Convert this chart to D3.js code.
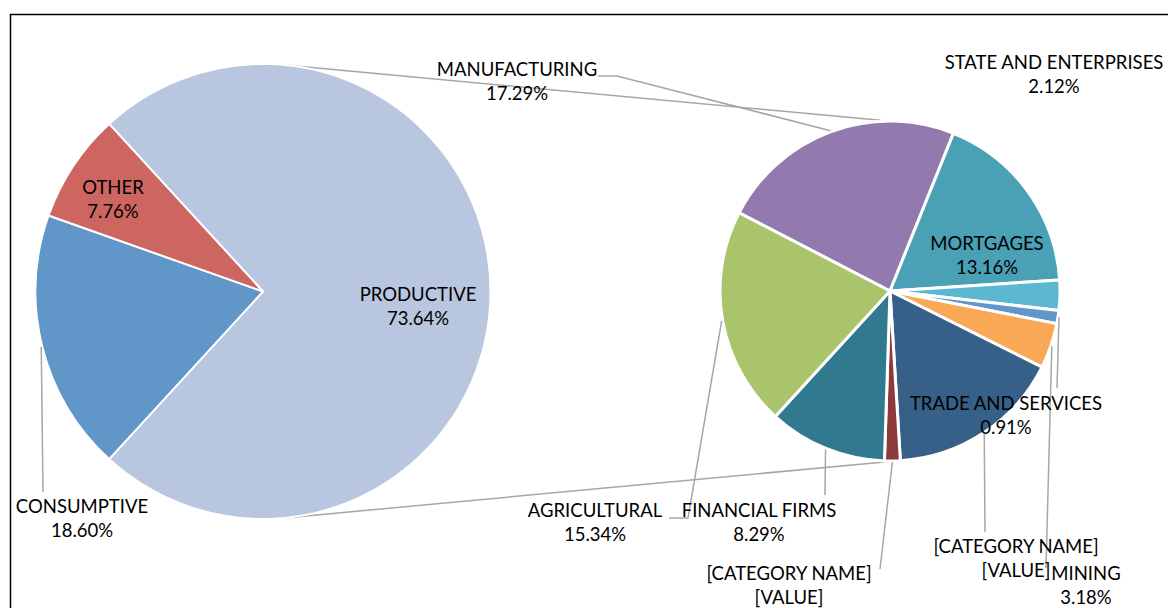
<!DOCTYPE html>
<html>
<head>
<meta charset="utf-8">
<script src="https://cdn.jsdelivr.net/npm/d3@7"></script>
<style>
html,body{margin:0;padding:0;background:#fff;}
svg{display:block;}
text{font-family:Lato,"Open Sans",sans-serif;font-size:18.5px;fill:#000;}
</style>
</head>
<body>
<svg id="chart" width="1168" height="608"></svg>
<script>
// ---- data ----
const mainCategories = ["PRODUCTIVE", "CONSUMPTIVE", "OTHER"];
const mainValues = [73.64, 18.60, 7.76];
const mainColors = ["#B8C6E0", "#6196C8", "#CD6660"];

const subCategories = ["MANUFACTURING", "MORTGAGES", "STATE AND ENTERPRISES", "TRADE AND SERVICES",
  "MINING", "[CATEGORY NAME]", "[CATEGORY NAME] ", "FINANCIAL FIRMS", "AGRICULTURAL"];
const subValues = [17.29, 13.16, 2.12, 0.91, 3.18, 12.25, 1.10, 8.29, 15.34];
const subColors = ["#927AAF", "#4AA0B5", "#5BB8D0", "#6196C9", "#F9A855", "#376088", "#8C3A3A", "#31798F", "#AAC46B"];

// label texts (line1, line2) as they appear
const mainLabelText = [["PRODUCTIVE", "73.64%"], ["CONSUMPTIVE", "18.60%"], ["OTHER", "7.76%"]];
const subLabelText = [["MANUFACTURING", "17.29%"], ["MORTGAGES", "13.16%"], ["STATE AND ENTERPRISES", "2.12%"],
  ["TRADE AND SERVICES", "0.91%"], ["MINING", "3.18%"], ["[CATEGORY NAME]", "[VALUE]"],
  ["[CATEGORY NAME]", "[VALUE]"], ["FINANCIAL FIRMS", "8.29%"], ["AGRICULTURAL", "15.34%"]];

// ---- layout ----
const svg = d3.select("#chart");
const W = 1168, H = 608;
const main = {cx: 263, cy: 291.5, r: 227.5};
const sub = {cx: 890, cy: 291, r: 170};
const rad = d => d * Math.PI / 180;

// label anchor positions (center x, first line center y)
const mainLabelPos = [[418, 295], [82, 507], [113, 188]];
const subLabelPos = [[517, 70], [987, 244], [1054, 63], [1006, 404], [1086, 574], [1016, 547], [789, 574], [759, 511], [595, 511]];
// leader end points (null = no leader)
const mainLeaderEnd = [null, [[43, 492]], null];
const subLeaderEnd = [
  [[617, 76], [598, 76]],
  null, null,
  [[1057, 388]],
  [[1046, 568]],
  [[985, 532]],
  [[880, 569]],
  [[825, 495]],
  [[688, 518], [669, 518]]
];

// frame
svg.append("rect").attr("width", W).attr("height", H).attr("fill", "#fff");
svg.append("path").attr("d", `M10.5,${H} L10.5,14.5 L${W},14.5`)
  .attr("fill", "none").attr("stroke", "#000").attr("stroke-width", 1.5);

// pies
const prodFrac = mainValues[0] / d3.sum(mainValues);
const mainStart = Math.PI / 2 - prodFrac * Math.PI;
const mainPie = d3.pie().sort(null).startAngle(mainStart).endAngle(mainStart + 2 * Math.PI);
const subStart = rad(-62.6);
const subPie = d3.pie().sort(null).startAngle(subStart).endAngle(subStart + 2 * Math.PI);

const mainArcs = mainPie(mainValues);
const subArcs = subPie(subValues);

const pt = (c, a, r) => [c.cx + r * Math.sin(a), c.cy - r * Math.cos(a)];

// connector lines between pies
const lineColor = "#A6A6A6";
const connectors = [
  [pt(main, rad(5.5), main.r), pt(sub, rad(-3.2), sub.r + 1)],
  [pt(main, rad(174.5), main.r), pt(sub, rad(181.8), sub.r + 1)]
];
svg.selectAll("line.conn").data(connectors).join("line").attr("class", "conn")
  .attr("x1", d => d[0][0]).attr("y1", d => d[0][1])
  .attr("x2", d => d[1][0]).attr("y2", d => d[1][1])
  .attr("stroke", lineColor).attr("stroke-width", 1.5);

const mainArc = d3.arc().innerRadius(0).outerRadius(main.r);
svg.append("g").attr("transform", `translate(${main.cx},${main.cy})`)
  .selectAll("path").data(mainArcs).join("path")
  .attr("d", mainArc).attr("fill", (d, i) => mainColors[i])
  .attr("stroke", "#fff").attr("stroke-width", 2).attr("stroke-linejoin", "round");

const subArc = d3.arc().innerRadius(0).outerRadius(sub.r);
svg.append("g").attr("transform", `translate(${sub.cx},${sub.cy})`)
  .selectAll("path").data(subArcs).join("path")
  .attr("d", subArc).attr("fill", (d, i) => subColors[i])
  .attr("stroke", "#fff").attr("stroke-width", 3).attr("stroke-linejoin", "round");

// leader lines
function leaders(arcs, center, ends) {
  arcs.forEach((d, i) => {
    if (!ends[i]) return;
    const mid = (d.startAngle + d.endAngle) / 2;
    const pts = [pt(center, mid, center.r + 1)].concat(ends[i]);
    svg.append("path").attr("d", d3.line()(pts)).attr("fill", "none")
      .attr("stroke", lineColor).attr("stroke-width", 1.5);
  });
}
leaders(mainArcs, main, mainLeaderEnd);
leaders(subArcs, sub, subLeaderEnd);

// labels
function labels(texts, pos) {
  texts.forEach((t, i) => {
    const g = svg.append("text").attr("text-anchor", "middle");
    t.forEach((s, j) => {
      g.append("tspan").attr("x", pos[i][0]).attr("y", pos[i][1] + j * 24)
        .attr("dy", "0.35em").text(s);
    });
  });
}
labels(mainLabelText, mainLabelPos);
labels(subLabelText, subLabelPos);
</script>
</body>
</html>
